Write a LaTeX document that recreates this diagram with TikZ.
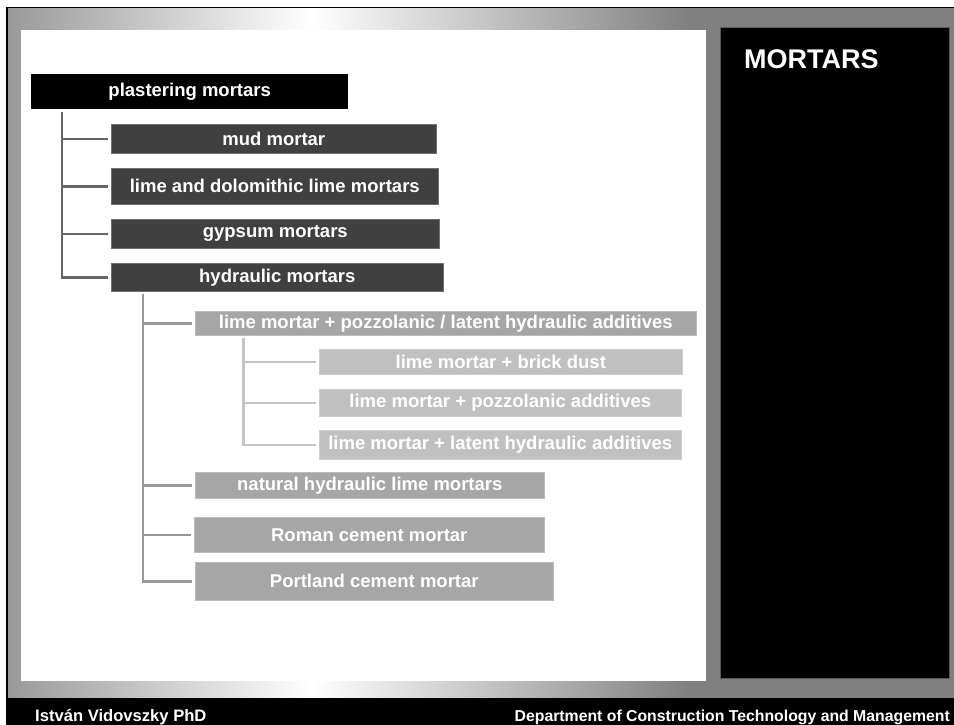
\documentclass[tikz,border=0pt]{standalone}
\usepackage{fontspec}
\setmainfont{Liberation Sans}
\usetikzlibrary{positioning,calc}
\definecolor{RootBlack}{HTML}{000000}
\definecolor{MainGray}{HTML}{404040}
\definecolor{SubGray}{HTML}{A6A6A6}
\definecolor{LeafGray}{HTML}{C0C0C0}
\definecolor{LinkDark}{HTML}{666666}
\definecolor{LinkMid}{HTML}{999999}
\definecolor{LinkLight}{HTML}{C4C4C4}
\definecolor{FrameLeft}{HTML}{999999}
\definecolor{FrameRight}{HTML}{808080}
\pgfdeclarehorizontalshading{FrameShade}{100bp}{color(0bp)=(FrameLeft); color(25bp)=(FrameLeft); color(41bp)=(white); color(61bp)=(FrameRight); color(100bp)=(FrameRight)}
\tikzset{
  box/.style={rectangle, anchor=north west, inner sep=0pt, text=white,
    font=\bfseries\fontsize{18.5}{20}\selectfont},
  topbox/.style={box, fill=RootBlack},
  mainbox/.style={box, fill=MainGray, draw=MainGray!75!white, line width=0.6pt},
  subbox/.style={box, fill=SubGray, draw=SubGray!75!white, line width=0.6pt},
  leafbox/.style={box, fill=LeafGray, draw=LeafGray!80!white, line width=0.6pt},
  title/.style={anchor=base west, inner sep=0pt, text=white,
    font=\bfseries\fontsize{27}{30}\selectfont},
  footer/.style={inner sep=0pt, text=white, font=\bfseries\fontsize{16.6}{18}\selectfont},
  link1/.style={draw=LinkDark, line width=2.6pt},
  link2/.style={draw=LinkMid, line width=2.6pt},
  link3/.style={draw=LinkLight, line width=2.6pt}
}

\begin{document}
\begin{tikzpicture}[x=1pt, y=-1pt]

\useasboundingbox (0,0) rectangle (954,725);
\fill[black] (6,7) rectangle (954,725);
\fill[shading=FrameShade] (8,9) rectangle (954,697);
\fill[white] (21,30) rectangle (706,681);
\filldraw[fill=black, draw=black!65, line width=0.8pt] (720,27) rectangle (949,678);

\node[title] (heading) at (744,69) {MORTARS};

\node[topbox, minimum width=317pt, minimum height=35pt] (plaster) at (31,74) {plastering mortars};

\node[mainbox, minimum width=325pt, minimum height=29pt] (mud) at (111,124) {mud mortar};
\node[mainbox, minimum width=327pt, minimum height=36pt] (lime) at (111,168) {lime and dolomithic lime mortars};
\node[mainbox, minimum width=328pt, minimum height=29pt] (gypsum) at (111,219) {gypsum mortars};
\node[mainbox, minimum width=332pt, minimum height=28pt] (hydraulic) at (111,263) {hydraulic mortars};

\node[subbox, minimum width=501pt, minimum height=24pt] (pozz) at (195,311) {lime mortar + pozzolanic / latent hydraulic additives};

\node[leafbox, minimum width=363pt, minimum height=25pt] (brick) at (319,349) {lime mortar + brick dust};
\node[leafbox, minimum width=362pt, minimum height=27pt] (pozzadd) at (319,389) {lime mortar + pozzolanic additives};
\node[leafbox, minimum width=362pt, minimum height=29pt] (latent) at (319,430) {lime mortar + latent hydraulic additives};

\node[subbox, minimum width=349pt, minimum height=26pt] (natural) at (195,472) {natural hydraulic lime mortars};
\node[subbox, minimum width=350pt, minimum height=35pt] (roman) at (194,517) {Roman cement mortar};
\node[subbox, minimum width=358pt, minimum height=38pt] (portland) at (195,562) {Portland cement mortar};

\node[footer, anchor=base west] (author) at (35,721) {István Vidovszky PhD};
\node[footer, anchor=base east, font=\bfseries\fontsize{15.8}{18}\selectfont] (dept) at (950,721) {Department of Construction Technology and Management};

\coordinate (t1) at (62,112);
\coordinate (t2) at (143,294);
\coordinate (t3) at (243.5,338);

\draw[link1] (t1) |- ([xshift=-3pt]hydraulic.west);
\draw[link1] (t1 |- mud.west)    -- ([xshift=-3pt]mud.west);
\draw[link1] (t1 |- lime.west)   -- ([xshift=-3pt]lime.west);
\draw[link1] (t1 |- gypsum.west) -- ([xshift=-3pt]gypsum.west);

\draw[link2] (t2) |- ([xshift=-3pt]portland.west);
\draw[link2] (t2 |- pozz.west)    -- ([xshift=-3pt]pozz.west);
\draw[link2] (t2 |- natural.west) -- ([xshift=-3pt]natural.west);
\draw[link2] (t2 |- roman.west)   -- ([xshift=-3pt]roman.west);

\draw[link3] (t3) |- ([xshift=-3pt]latent.west);
\draw[link3] (t3 |- brick.west)   -- ([xshift=-3pt]brick.west);
\draw[link3] (t3 |- pozzadd.west) -- ([xshift=-3pt]pozzadd.west);

\end{tikzpicture}
\end{document}
